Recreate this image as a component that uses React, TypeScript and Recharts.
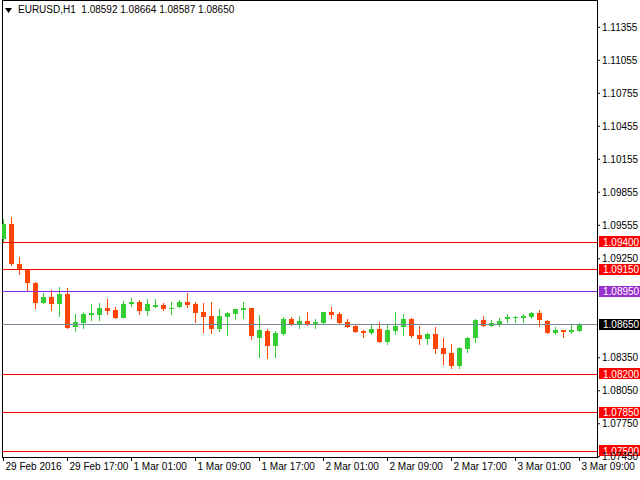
import React from 'react';
import { ComposedChart, Bar, XAxis, YAxis, ReferenceLine, ReferenceArea } from 'recharts';

// H1 bars, 29 Feb 09:00 .. 3 Mar 09:00
const opens = [
  1.0943, 1.09564, 1.092, 1.09152, 1.0903, 1.08848, 1.089, 1.08839, 1.08927, 1.0863,
  1.08666, 1.08736, 1.08739, 1.088, 1.08782, 1.08709, 1.08836, 1.08855, 1.08773, 1.08809,
  1.08827, 1.08791, 1.08809, 1.08855, 1.08836, 1.08764, 1.08727, 1.08609, 1.08718, 1.08745,
  1.08782, 1.088, 1.08527, 1.08591, 1.08455, 1.08564, 1.087, 1.08645, 1.08682, 1.08645,
  1.08664, 1.08764, 1.08745, 1.08673, 1.08636, 1.08591, 1.08573, 1.08609, 1.0849, 1.08591,
  1.08627, 1.087, 1.08555, 1.08518, 1.08564, 1.08436, 1.08391, 1.08273, 1.08427, 1.08527,
  1.08691, 1.08636, 1.08655, 1.087, 1.08709, 1.08709, 1.08718, 1.08755, 1.08682, 1.08573,
  1.086, 1.08582, 1.08592,
];
const highs = [
  1.0961, 1.0963, 1.09264, 1.0916, 1.0904, 1.08936, 1.08964, 1.08991, 1.08982, 1.08745,
  1.08764, 1.08842, 1.08845, 1.08882, 1.08809, 1.08864, 1.08891, 1.08873, 1.08882, 1.08882,
  1.08845, 1.08855, 1.08873, 1.08936, 1.08855, 1.08845, 1.08855, 1.08791, 1.08764, 1.08791,
  1.08855, 1.08805, 1.08736, 1.08609, 1.08591, 1.08718, 1.08718, 1.08727, 1.08764, 1.087,
  1.08768, 1.08809, 1.08764, 1.087, 1.08655, 1.086, 1.08655, 1.08673, 1.08655, 1.08764,
  1.08745, 1.08709, 1.08636, 1.08573, 1.08627, 1.08527, 1.08473, 1.08445, 1.08536, 1.087,
  1.08727, 1.08691, 1.08709, 1.08745, 1.08727, 1.08745, 1.08764, 1.08782, 1.08691, 1.08627,
  1.08604, 1.08645, 1.08664,
];
const lows = [
  1.0939, 1.09182, 1.09106, 1.08955, 1.08794, 1.08839, 1.08775, 1.08721, 1.08612, 1.08585,
  1.08612, 1.08685, 1.08685, 1.08739, 1.087, 1.08709, 1.08809, 1.08739, 1.08727, 1.088,
  1.08773, 1.08739, 1.088, 1.088, 1.08664, 1.08573, 1.08564, 1.08582, 1.08545, 1.0869,
  1.087, 1.08509, 1.08345, 1.08336, 1.08345, 1.08545, 1.08636, 1.08609, 1.08636, 1.08609,
  1.08655, 1.087, 1.0866, 1.08618, 1.08578, 1.08527, 1.08555, 1.08486, 1.08464, 1.08555,
  1.08545, 1.08527, 1.08464, 1.08464, 1.08382, 1.08282, 1.08245, 1.08245, 1.08391, 1.08482,
  1.08632, 1.08627, 1.08627, 1.08664, 1.08664, 1.08664, 1.087, 1.08627, 1.0857, 1.08555,
  1.08527, 1.08564, 1.08587,
];
const closes = [
  1.09564, 1.092, 1.09152, 1.0903, 1.08848, 1.089, 1.08839, 1.08927, 1.08621, 1.08673,
  1.08745, 1.08755, 1.088, 1.08773, 1.08709, 1.08836, 1.08855, 1.08773, 1.08836, 1.08827,
  1.08791, 1.088, 1.08855, 1.08827, 1.08755, 1.08718, 1.08609, 1.08727, 1.08755, 1.08791,
  1.088, 1.08545, 1.086, 1.08455, 1.08573, 1.087, 1.08645, 1.08682, 1.08645, 1.08673,
  1.08764, 1.08736, 1.08664, 1.08627, 1.08582, 1.08573, 1.08609, 1.0849, 1.086, 1.08636,
  1.087, 1.08545, 1.08518, 1.08564, 1.08427, 1.08382, 1.08273, 1.08436, 1.08527, 1.08691,
  1.08636, 1.08664, 1.08682, 1.08718, 1.08718, 1.08727, 1.08755, 1.08691, 1.08573, 1.086,
  1.08582, 1.086, 1.0865,
];

const timeTicks = [0, 8, 16, 24, 32, 40, 48, 56, 64, 72];
const timeLabels = [
  '29 Feb 2016', '29 Feb 17:00', '1 Mar 01:00', '1 Mar 09:00', '1 Mar 17:00',
  '2 Mar 01:00', '2 Mar 09:00', '2 Mar 17:00', '3 Mar 01:00', '3 Mar 09:00',
];
const priceTicks = [
  1.11355, 1.11055, 1.10755, 1.10455, 1.10155, 1.09855, 1.09555, 1.0925,
  1.0835, 1.0805, 1.0775, 1.0745,
];
const redLevels = [1.094, 1.0915, 1.082, 1.0785, 1.075];
const blueLevel = 1.0895;
const lastPrice = 1.0865;

const UP = '#32CD32';
const DOWN = '#FF4500';
const FONT = '"Liberation Sans", Arial, sans-serif';
const xDomain: [number, number] = [-0.1875, 74.1875];
const yDomain: [number, number] = [1.07448, 1.11603];

const data = opens.map((o, i) => ({
  i,
  o,
  h: highs[i],
  l: lows[i],
  c: closes[i],
  range: [lows[i], highs[i]],
}));

const Candle = (props: any) => {
  const { x, y, width, height, payload } = props;
  const { o, h, l, c } = payload;
  const hgt = Math.abs(height);
  const k = h > l ? hgt / (h - l) : 0;
  const top = y + (h - Math.max(o, c)) * k;
  const bot = y + (h - Math.min(o, c)) * k;
  const color = c >= o ? UP : DOWN;
  const cx = x + width / 2;
  return (
    <g shapeRendering="crispEdges">
      <rect x={cx - 0.5} y={y} width={1} height={Math.max(hgt, 1)} fill={color} />
      <rect x={x} y={top} width={width} height={Math.max(bot - top, 1)} fill={color} />
    </g>
  );
};

const levelLabel = (bg: string, value: number) => (props: any) => {
  const { x, y, width } = props.viewBox;
  const lx = x + width + 2;
  return (
    <g>
      <rect x={lx} y={Math.round(y) - 6} width={41} height={11} fill={bg} shapeRendering="crispEdges" />
      <text x={lx + 4} y={y} dy="0.355em" fill="#fff" fontSize={10} fontFamily={FONT}>
        {value.toFixed(5)}
      </text>
    </g>
  );
};

const TimeTick = (props: any) => {
  const { x, y, payload } = props;
  const label = timeLabels[timeTicks.indexOf(payload.value)];
  return (
    <text x={x + 2} y={y} dy="0.71em" textAnchor="start" fill="#000" fontSize={10} fontFamily={FONT}>
      {label}
    </text>
  );
};

export default function App() {
  return (
    <div style={{ position: 'absolute', left: 0, top: 0, width: 640, height: 480, background: '#fff' }}>
      <ComposedChart width={640} height={480} data={data} margin={{ top: 0, right: 0, bottom: 0, left: 2 }}>
        <XAxis
          dataKey="i"
          type="number"
          domain={xDomain}
          allowDataOverflow
          ticks={timeTicks}
          interval={0}
          height={23}
          axisLine={false}
          tickLine={{ stroke: '#000' }}
          tickSize={4}
          tickMargin={2}
          tick={<TimeTick />}
        />
        <YAxis
          orientation="right"
          type="number"
          domain={yDomain}
          allowDataOverflow
          ticks={priceTicks}
          interval={0}
          width={43}
          axisLine={false}
          tickLine={{ stroke: '#000' }}
          tickSize={3}
          tickMargin={2}
          tick={{ fill: '#000', fontSize: 10, fontFamily: FONT }}
          tickFormatter={(v: number) => v.toFixed(5)}
        />
        <ReferenceArea
          x1={xDomain[0]}
          x2={xDomain[1]}
          y1={yDomain[0]}
          y2={yDomain[1]}
          fill="none"
          stroke="#000"
          strokeOpacity={1}
          fillOpacity={0}
          ifOverflow="visible"
          shapeRendering="crispEdges"
        />
        {redLevels.map((v) => (
          <ReferenceLine
            key={v}
            y={v}
            stroke="#FF0000"
            shapeRendering="crispEdges"
            label={levelLabel('#FF0000', v)}
          />
        ))}
        <ReferenceLine y={blueLevel} stroke="#8A2BE2" shapeRendering="crispEdges" label={levelLabel('#9932CC', blueLevel)} />
        <ReferenceLine y={lastPrice} stroke="#778899" shapeRendering="crispEdges" label={levelLabel('#000000', lastPrice)} />
        <Bar dataKey="range" barSize={5} shape={<Candle />} isAnimationActive={false} />
      </ComposedChart>
      <div
        style={{
          position: 'absolute',
          left: 5,
          top: 4,
          display: 'flex',
          alignItems: 'center',
          fontFamily: FONT,
          fontSize: 10,
          lineHeight: '12px',
          color: '#000',
          whiteSpace: 'pre',
        }}
      >
        <svg width={7} height={5} style={{ marginRight: 6 }}>
          <polygon points="0,0 7,0 3.5,5" fill="#000" />
        </svg>
        <span>{'EURUSD,H1  1.08592 1.08664 1.08587 1.08650'}</span>
      </div>
    </div>
  );
}
